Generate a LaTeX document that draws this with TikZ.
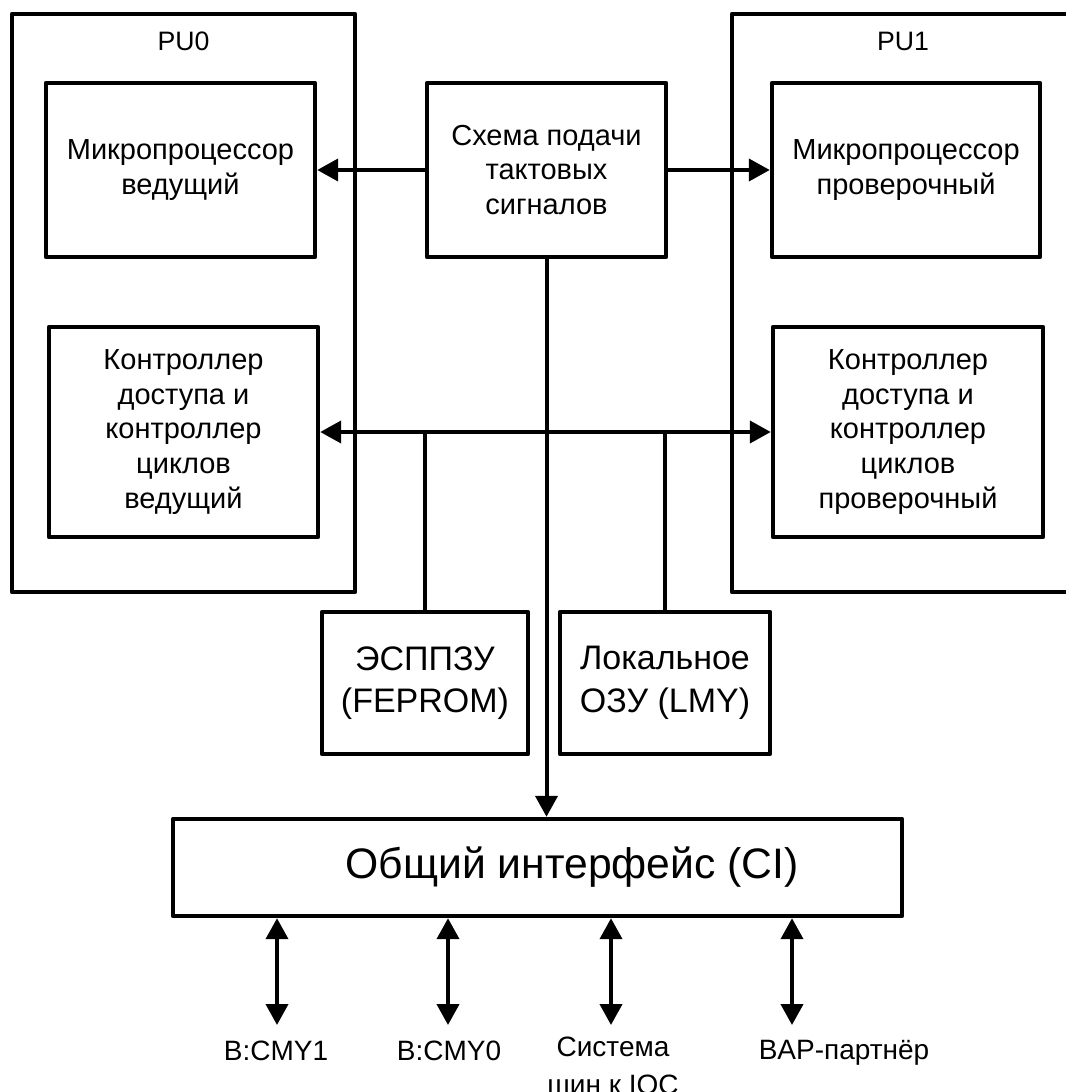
\documentclass[tikz,border=0pt]{standalone}
\usepackage{fontspec}
\setmainfont{Liberation Sans}
\usetikzlibrary{arrows.meta}
\begin{document}
\begin{tikzpicture}[x=0.75pt, y=-0.75pt,
    box/.style={draw, line width=3.3pt, line join=round, inner sep=0pt, align=center,
                font=\fontsize{21.75pt}{26pt}\selectfont},
    membox/.style={box, font=\fontsize{25.5pt}{32pt}\selectfont},
    frame/.style={draw, line width=3.3pt, line join=round, inner sep=0pt},
    title/.style={font=\fontsize{20pt}{24pt}\selectfont, inner sep=0pt},
    port/.style={font=\fontsize{21pt}{21pt}\selectfont, align=center, inner sep=0pt},
    wire/.style={line width=3pt},
    arr/.style={wire, -{Triangle[length=15.75pt, width=16.5pt]}},
    biarr/.style={wire, {Triangle[length=15.75pt, width=16.5pt]}-{Triangle[length=15.75pt, width=16.5pt]}}]
  \useasboundingbox (0,0) rectangle (1065,1092);

  % processing units (PU1 runs past the right edge)
  \node[frame, minimum width=257.25pt, minimum height=433.5pt] (pu0) at (183.5,303) {};
  \node[frame, minimum width=268.5pt, minimum height=433.5pt] (pu1) at (911,303) {};
  \node[title] (pu0lab) at (183.5,41) {PU0};
  \node[title] (pu1lab) at (903,41) {PU1};

  % blocks inside the units
  \node[box, minimum width=201.75pt, minimum height=130.5pt] (mp0) at (180.5,170) {Микропроцессор\\ведущий};
  \node[box, minimum width=201pt, minimum height=130.5pt] (mp1) at (906,170) {Микропроцессор\\проверочный};
  \node[box, minimum width=201.75pt, minimum height=157.5pt] (ac0) at (183.5,432)
    {Контроллер\\доступа и\\контроллер\\циклов\\ведущий};
  \node[box, minimum width=202.5pt, minimum height=157.5pt] (ac1) at (908,432)
    {Контроллер\\доступа и\\контроллер\\циклов\\проверочный};

  % clock supply
  \node[box, minimum width=179.25pt, minimum height=130.5pt] (clk) at (546.5,170)
    {Схема подачи\\тактовых\\сигналов};

  % memories
  \node[membox, minimum width=154.5pt, minimum height=106.5pt] (rom) at (425,683) {ЭСППЗУ\\(FEPROM)};
  \node[membox, minimum width=157.5pt, minimum height=106.5pt] (lmy) at (665,683) {Локальное\\ОЗУ (LMY)};

  % common interface
  \node[box, minimum width=546.75pt, minimum height=72.75pt,
        font=\fontsize{32pt}{36pt}\selectfont] (ci) at (537.5,867.5)
    {\hspace*{52pt}Общий интерфейс (CI)};

  % clock distribution
  \draw[arr] (clk.west) -- (mp0.east);
  \draw[arr] (clk.east) -- (mp1.west);
  \draw[arr] (clk.south) -- (clk.south |- ci.north);

  % local bus
  \draw[biarr] (ac0.east) -- (ac1.west);
  \draw[wire] (rom.north) -- (rom.north |- ac0.east);
  \draw[wire] (lmy.north) -- (lmy.north |- ac0.east);

  % external links
  \coordinate (e1) at (277,1025);
  \coordinate (e2) at (448,1025);
  \coordinate (e3) at (611,1025);
  \coordinate (e4) at (792,1025);
  \foreach \e in {e1,e2,e3,e4}
    \draw[biarr] (ci.south -| \e) -- (\e);

  \node[port] (p1) at (276,1051) {B:CMY1};
  \node[port] (p2) at (449,1051) {B:CMY0};
  \node[port, font=\fontsize{21pt}{28pt}\selectfont] (p3) at (613,1066) {Система\\шин к IOC};
  \node[port] (p4) at (844,1053) {BAP-партнёр};
\end{tikzpicture}
\end{document}
